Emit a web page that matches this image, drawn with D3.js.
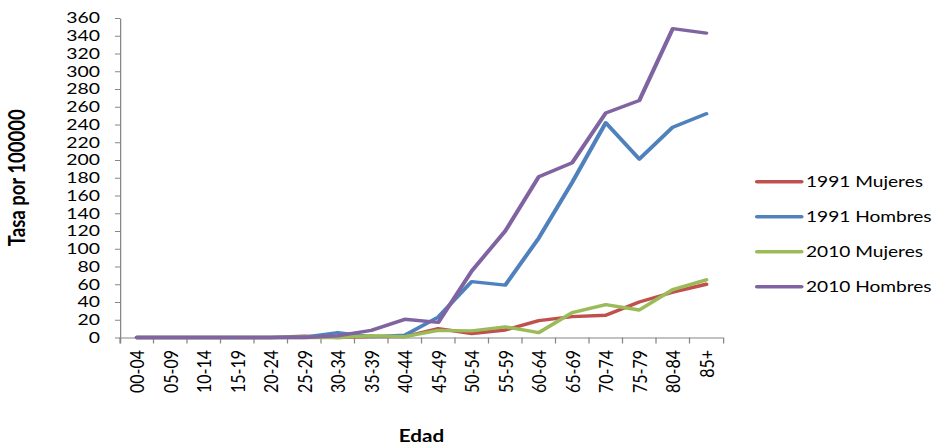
<!DOCTYPE html>
<html>
<head>
<meta charset="utf-8">
<script src="https://cdn.jsdelivr.net/npm/d3@7/dist/d3.min.js"></script>
<style>
  html, body { margin: 0; padding: 0; background: #fff; }
  svg { display: block; }
  text { font-family: Lato, "Open Sans", sans-serif; fill: #000; }
</style>
</head>
<body>
<script>
// Age groups on the x axis
const categories = ["00-04","05-09","10-14","15-19","20-24","25-29","30-34","35-39","40-44",
  "45-49","50-54","55-59","60-64","65-69","70-74","75-79","80-84","85+"];

// Rates per 100000 for each group
const mujeres1991 = [0,0,0,0,0,1.5,0,1,1,10,4.5,8.5,19,23.5,25,40,51,60];
const hombres1991 = [0,0,0,0,0,0.5,5.5,1,2.5,23,63,59,112,175,242,201,237,252];
const mujeres2010 = [0,0,0,0,0,0,0,2,1,8,7.5,12,5.5,28,37,31,54,65];
const hombres2010 = [0,0,0,0,0,0,2,8,20.5,17,75,120,181,197,253,267,348,343];

const seriesNames = ["1991 Mujeres","1991 Hombres","2010 Mujeres","2010 Hombres"];
const seriesColors = ["#C0504D","#4F81BD","#9BBB59","#8064A2"];
const yTicks = d3.range(0, 361, 20);

const series = [mujeres1991, hombres1991, mujeres2010, hombres2010].map((v, i) => ({
  name: seriesNames[i], color: seriesColors[i], values: v
}));

// The drawing is laid out in a narrower coordinate space and stretched to the window width
const W = 938, H = 448, SX = 1.25;
const VW = W / SX;
const px = v => v / SX;

const svg = d3.select("body").append("svg")
  .attr("width", W).attr("height", H)
  .attr("viewBox", `0 0 ${VW} ${H}`)
  .attr("preserveAspectRatio", "none");

const plotLeft = px(120), plotRight = px(723), plotTop = 18, plotBottom = 337.5;

const x = d3.scaleBand().domain(categories).range([plotLeft, plotRight]).padding(0);
const y = d3.scaleLinear().domain([0, 360]).range([plotBottom, plotTop]);

const axisColor = "#868686";

// Y axis
const yAxis = svg.append("g")
  .attr("transform", `translate(${plotLeft},0)`)
  .call(d3.axisLeft(y).tickValues(yTicks).tickSizeInner(4).tickSizeOuter(0).tickPadding(12));
yAxis.select(".domain").attr("stroke", axisColor).attr("stroke-width", 1);
yAxis.selectAll(".tick line").attr("stroke", axisColor);
yAxis.selectAll(".tick text")
  .attr("font-family", "Lato, sans-serif")
  .attr("font-size", 15.5)
  .attr("fill", "#000");

// X axis with ticks on category boundaries
const xAxis = svg.append("g")
  .attr("transform", `translate(0,${plotBottom})`)
  .call(d3.axisBottom(x).tickSizeInner(6).tickSizeOuter(6));
xAxis.select(".domain").attr("stroke", axisColor).attr("stroke-width", 1).attr("fill", "none");
xAxis.selectAll(".tick line")
  .attr("stroke", axisColor)
  .attr("x1", -x.bandwidth() / 2)
  .attr("x2", -x.bandwidth() / 2);
xAxis.selectAll(".tick text")
  .attr("font-family", "Lato, sans-serif")
  .attr("font-size", 16)
  .attr("fill", "#000")
  .attr("text-anchor", "end")
  .attr("transform", "rotate(-90)")
  .attr("x", -12.5)
  .attr("y", 0)
  .attr("dy", "0.38em");

// Series lines
const line = d3.line()
  .x((d, i) => x(categories[i]) + x.bandwidth() / 2)
  .y(d => y(d));

svg.append("g").selectAll("path")
  .data(series)
  .join("path")
  .attr("fill", "none")
  .attr("stroke", d => d.color)
  .attr("stroke-width", 3.4)
  .attr("stroke-linejoin", "round")
  .attr("stroke-linecap", "round")
  .attr("d", d => line(d.values));

// Axis titles
svg.append("text")
  .attr("transform", `translate(${px(17)},${(plotTop + plotBottom) / 2}) rotate(-90)`)
  .attr("text-anchor", "middle")
  .attr("dy", "0.35em")
  .attr("font-weight", "bold")
  .attr("font-size", 18.5)
  .text("Tasa por 100000");

svg.append("text")
  .attr("x", (plotLeft + plotRight) / 2)
  .attr("y", 442)
  .attr("text-anchor", "middle")
  .attr("font-weight", "bold")
  .attr("font-size", 16.5)
  .text("Edad");

// Legend
const legend = svg.append("g");
const rowY = d3.scalePoint().domain(seriesNames).range([181.7, 286.7]);
const item = legend.selectAll("g")
  .data(series)
  .join("g")
  .attr("transform", d => `translate(0,${rowY(d.name)})`);
item.append("line")
  .attr("x1", px(757)).attr("x2", px(801.5))
  .attr("stroke", d => d.color)
  .attr("stroke-width", 3.4)
  .attr("stroke-linecap", "round");
item.append("text")
  .attr("x", px(806))
  .attr("dy", "0.36em")
  .attr("font-size", 15.3)
  .text(d => d.name);
</script>
</body>
</html>
